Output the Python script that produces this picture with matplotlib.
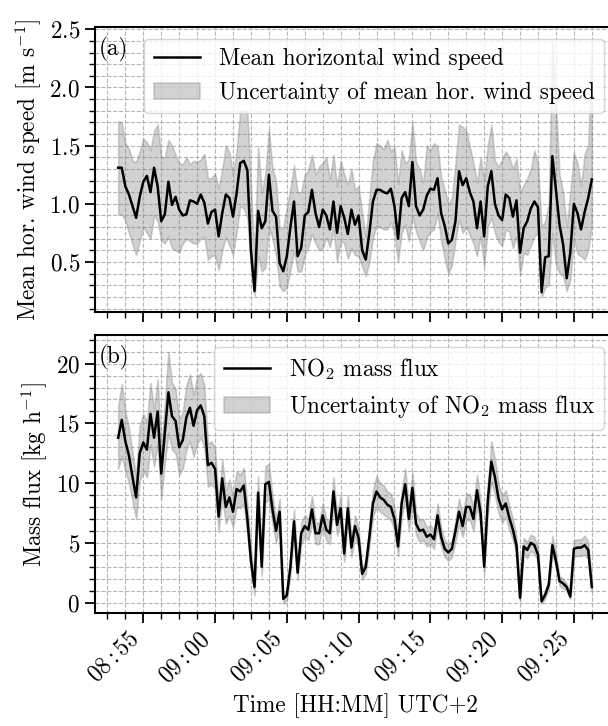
import numpy as np
import matplotlib
matplotlib.use('Agg')
import matplotlib.pyplot as plt
import matplotlib.dates as mdates
from matplotlib.ticker import MultipleLocator, AutoMinorLocator

plt.rcParams.update({
    'font.family': 'cmr10',
    'mathtext.fontset': 'cm',
    'axes.unicode_minus': False,
    'axes.formatter.use_mathtext': True,
    'font.size': 16.7,
})

# mean horizontal wind speed [m/s], 15 s samples from 08:53:15
wind = [1.31, 1.31, 1.15, 1.08, 0.98, 0.88, 1.06, 1.19, 1.24, 1.10,
        1.31, 1.15, 0.85, 0.91, 1.19, 0.99, 1.06, 0.95, 0.90, 0.91,
        1.03, 1.02, 1.00, 1.08, 1.01, 0.83, 0.93, 0.95, 0.72, 0.92,
        1.08, 1.05, 0.89, 1.09, 1.35, 1.37, 1.29, 0.60, 0.25, 0.94,
        0.79, 0.85, 1.25, 0.94, 0.89, 0.49, 0.42, 0.55, 0.80, 1.02,
        0.55, 0.62, 0.90, 0.93, 1.12, 0.92, 0.80, 0.95, 0.90, 0.78,
        1.02, 0.75, 0.98, 0.88, 0.74, 0.95, 0.82, 0.90, 0.60, 0.52,
        0.75, 1.02, 1.12, 1.12, 1.10, 1.09, 1.13, 0.98, 0.70, 1.05,
        1.10, 0.98, 1.36, 0.98, 0.90, 0.95, 1.07, 1.13, 1.12, 1.22,
        0.92, 0.81, 0.66, 0.69, 0.85, 1.28, 1.16, 1.22, 1.10, 1.02,
        0.79, 1.02, 0.72, 1.15, 1.28, 1.00, 0.90, 0.86, 1.08, 1.05,
        0.89, 1.03, 0.58, 0.79, 0.85, 0.96, 1.02, 0.97, 0.24, 0.54,
        0.55, 1.41, 1.12, 0.82, 0.65, 0.36, 0.58, 1.00, 0.92, 0.78,
        0.93, 1.05, 1.21]

wind_hi = [1.71, 1.70, 1.52, 1.47, 1.37, 1.36, 1.45, 1.56, 1.53, 1.46,
           1.63, 1.68, 1.40, 1.40, 1.55, 1.50, 1.42, 1.35, 1.34, 1.40,
           1.34, 1.37, 1.36, 1.38, 1.43, 1.22, 1.22, 1.26, 1.13, 1.30,
           1.50, 1.44, 1.26, 1.45, 1.80, 1.80, 1.79, 1.15, 0.55, 1.49,
           1.10, 1.25, 1.64, 1.30, 1.20, 0.78, 0.80, 0.97, 1.13, 1.33,
           1.10, 1.10, 1.25, 1.29, 1.42, 1.25, 1.32, 1.35, 1.40, 1.21,
           1.42, 1.15, 1.37, 1.25, 1.17, 1.30, 1.12, 1.15, 0.92, 0.72,
           1.05, 1.37, 1.52, 1.50, 1.47, 1.55, 1.45, 1.49, 1.17, 1.46,
           1.35, 1.38, 1.70, 1.36, 1.30, 1.18, 1.50, 1.46, 1.52, 1.50,
           1.23, 1.12, 1.00, 1.05, 1.35, 1.68, 1.66, 1.63, 1.49, 1.35,
           1.18, 1.40, 1.20, 1.50, 1.68, 1.37, 1.32, 1.38, 1.45, 1.40,
           1.30, 1.39, 1.10, 1.16, 1.22, 1.30, 1.46, 1.35, 0.80, 0.85,
           1.00, 2.40, 1.85, 1.25, 1.10, 0.80, 1.10, 1.44, 1.35, 1.15,
           1.43, 1.50, 2.40]

wind_lo = [0.91, 0.91, 0.86, 0.75, 0.65, 0.56, 0.68, 0.80, 0.75, 0.70,
           0.90, 0.85, 0.68, 0.66, 0.72, 0.62, 0.60, 0.58, 0.66, 0.70,
           0.68, 0.66, 0.66, 0.70, 0.72, 0.52, 0.55, 0.56, 0.43, 0.60,
           0.72, 0.64, 0.56, 0.76, 0.98, 0.96, 0.88, 0.45, 0.21, 0.55,
           0.42, 0.45, 0.80, 0.70, 0.55, 0.29, 0.25, 0.28, 0.43, 0.60,
           0.42, 0.42, 0.56, 0.63, 0.74, 0.66, 0.60, 0.62, 0.71, 0.63,
           0.78, 0.50, 0.68, 0.66, 0.53, 0.62, 0.56, 0.55, 0.46, 0.38,
           0.50, 0.71, 0.81, 0.80, 0.78, 0.78, 0.84, 0.74, 0.50, 0.75,
           0.82, 0.68, 0.90, 0.76, 0.68, 0.60, 0.71, 0.76, 0.78, 0.92,
           0.68, 0.53, 0.40, 0.47, 0.69, 0.86, 0.75, 0.80, 0.73, 0.66,
           0.55, 0.72, 0.46, 0.80, 0.88, 0.75, 0.67, 0.64, 0.78, 0.76,
           0.62, 0.72, 0.39, 0.58, 0.56, 0.64, 0.72, 0.75, 0.20, 0.28,
           0.30, 0.75, 0.48, 0.40, 0.38, 0.25, 0.35, 0.70, 0.57, 0.55,
           0.52, 0.60, 0.82]

# NO2 mass flux [kg/h] and its uncertainty (half width)
flux = [13.8, 15.3, 13.5, 12.3, 10.5, 8.8, 12.5, 13.4, 12.8, 15.8,
        13.8, 16.0, 10.8, 14.2, 17.6, 15.6, 15.2, 13.0, 13.6, 15.5,
        16.3, 14.8, 16.1, 16.5, 15.6, 11.5, 11.7, 11.2, 7.2, 10.4,
        8.0, 8.8, 7.6, 9.5, 9.3, 9.8, 7.0, 3.5, 1.3, 9.2,
        3.0, 9.9, 10.1, 7.8, 6.0, 7.6, 0.3, 0.6, 3.0, 6.8,
        2.5, 5.8, 6.4, 6.1, 7.8, 5.8, 5.8, 7.3, 6.1, 5.8,
        9.3, 6.5, 7.9, 4.1, 7.9, 4.6, 6.4, 5.4, 2.4, 3.0,
        5.5, 8.3, 9.3, 8.8, 8.6, 8.2, 8.0, 7.0, 4.7, 8.3,
        9.9, 7.0, 9.6, 6.6, 6.0, 6.1, 5.5, 5.7, 5.3, 7.3,
        5.5, 4.5, 4.2, 4.5, 6.0, 7.6, 6.4, 8.0, 8.0, 7.0,
        9.4, 7.5, 3.0, 8.5, 11.8, 10.5, 8.7, 7.8, 8.3, 7.1,
        6.1, 4.8, 0.4, 4.7, 4.4, 5.0, 4.8, 4.0, 0.1, 0.65,
        1.5, 4.8, 3.5, 1.8, 1.6, 1.3, 0.5, 4.5, 4.6, 4.6,
        4.8, 4.4, 1.3]

flux_err = [2.6, 3.0, 2.5, 2.3, 2.0, 1.8, 2.3, 2.4, 2.3, 2.6,
            2.4, 2.7, 2.1, 2.5, 3.4, 2.8, 2.7, 2.3, 2.4, 2.7,
            2.8, 2.6, 2.8, 2.7, 2.6, 1.8, 1.8, 1.7, 1.3, 1.6,
            1.4, 1.5, 1.3, 1.5, 1.4, 1.5, 1.2, 0.9, 0.7, 1.4,
            0.8, 1.5, 1.5, 1.2, 1.0, 1.1, 0.4, 0.4, 0.7, 1.0,
            0.6, 0.9, 0.9, 0.9, 1.1, 0.9, 0.9, 1.0, 0.9, 0.9,
            1.2, 0.9, 1.1, 0.7, 1.1, 0.8, 0.9, 0.8, 0.5, 0.6,
            0.8, 1.1, 1.3, 1.2, 1.2, 1.1, 1.1, 1.0, 0.8, 1.1,
            1.3, 1.0, 1.3, 0.9, 0.9, 0.9, 0.8, 0.8, 0.8, 1.0,
            0.8, 0.7, 0.7, 0.7, 0.9, 1.1, 0.9, 1.1, 1.1, 1.0,
            1.3, 1.0, 0.6, 1.2, 1.7, 1.5, 1.2, 1.1, 1.1, 1.0,
            0.9, 0.7, 0.3, 0.7, 0.7, 0.7, 0.7, 0.6, 0.2, 0.3,
            0.4, 0.8, 0.6, 0.4, 0.4, 0.3, 0.2, 0.7, 0.7, 0.7,
            0.8, 0.7, 0.4]

t = np.datetime64('2000-01-01T08:53:15') + np.arange(len(wind)) * np.timedelta64(15, 's')
flux = np.array(flux)
flux_err = np.array(flux_err)

fig = plt.figure(figsize=(6.08, 7.26), dpi=100)
ax1 = fig.add_axes([94.5 / 608, 1 - 312 / 726, 521 / 608, 285 / 726])
ax2 = fig.add_axes([94.5 / 608, 1 - 613.3 / 726, 521 / 608, 278.3 / 726], sharex=ax1)

# (a) wind speed
ax1.plot(t, wind, color='black', lw=1.8, zorder=3, label='Mean horizontal wind speed')
ax1.fill_between(t, wind_lo, wind_hi, color='grey', alpha=0.35, lw=1.2, zorder=2,
                 label='Uncertainty of mean hor. wind speed')
ax1.set_ylim(0.07, 2.52)
ax1.yaxis.set_major_locator(MultipleLocator(0.5))
ax1.yaxis.set_minor_locator(MultipleLocator(0.1))
ax1.set_ylabel(r'Mean hor. wind speed [m s$^{-1}$]')
ax1.text(0.008, 0.965, '(a)', transform=ax1.transAxes, va='top', ha='left')
ax1.legend(loc='upper right')
ax1.tick_params(labelbottom=False)

# (b) NO2 mass flux
ax2.plot(t, flux, color='black', lw=1.8, zorder=3, label=r'NO$_2$ mass flux')
ax2.fill_between(t, flux - flux_err, flux + flux_err, color='grey', alpha=0.35, lw=1.2,
                 zorder=2, label=r'Uncertainty of NO$_2$ mass flux')
ax2.set_ylim(-0.9, 22.4)
ax2.yaxis.set_major_locator(MultipleLocator(5))
ax2.yaxis.set_minor_locator(MultipleLocator(1))
ax2.set_ylabel(r'Mass flux [kg h$^{-1}$]')
ax2.set_xlabel('Time [HH:MM] UTC+2')
ax2.text(0.008, 0.965, '(b)', transform=ax2.transAxes, va='top', ha='left')
ax2.legend(loc='upper right')

ax2.xaxis.set_major_locator(mdates.MinuteLocator(byminute=range(0, 60, 5)))
ax2.xaxis.set_minor_locator(AutoMinorLocator(4))
ax2.xaxis.set_major_formatter(mdates.DateFormatter('$%H:%M$'))
plt.setp(ax2.get_xticklabels(), rotation=45, ha='right')

for ax in (ax1, ax2):
    ax.grid(which='both', ls='--', color='#b5b5b5', lw=0.8)
    ax.set_axisbelow(True)
    ax.tick_params(which='major', length=7, width=1.3)
    ax.tick_params(which='minor', length=4, width=1.0)
    for s in ax.spines.values():
        s.set_linewidth(1.5)

fig.align_ylabels([ax1, ax2])
fig.savefig('out.png', dpi=100)
